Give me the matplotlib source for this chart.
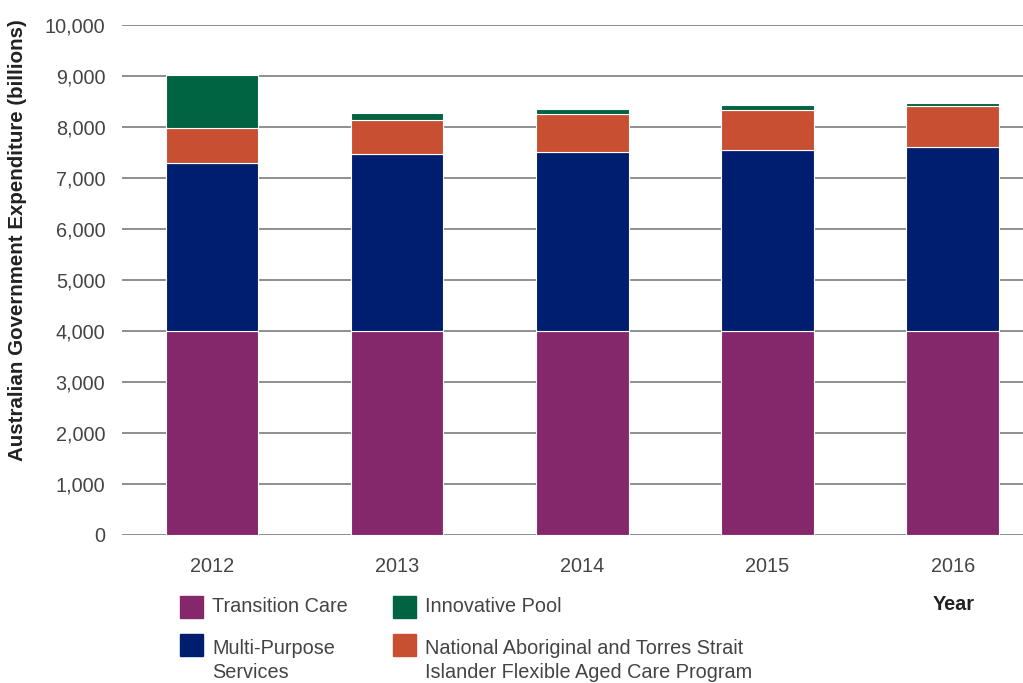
"""Stacked bar chart: Australian Government expenditure by flexible care program, 2012-2016."""

import matplotlib.pyplot as plt
import matplotlib.patches as mpatches
import numpy as np

plt.rcParams["font.family"] = ["Liberation Sans", "DejaVu Sans"]

YEARS = ["2012", "2013", "2014", "2015", "2016"]
TRANSITION_CARE = [4000, 4000, 4000, 4000, 4000]
MULTI_PURPOSE = [3300, 3470, 3515, 3555, 3600]
NATSI_FLEXIBLE = [690, 670, 740, 780, 820]
INNOVATIVE_POOL = [1030, 130, 90, 100, 50]

SERIES = [
    ("Transition Care", TRANSITION_CARE, "#84276B"),
    ("Multi-Purpose\nServices", MULTI_PURPOSE, "#001E70"),
    ("National Aboriginal and Torres Strait\nIslander Flexible Aged Care Program", NATSI_FLEXIBLE, "#C84F31"),
    ("Innovative Pool", INNOVATIVE_POOL, "#006341"),
]

TEXT_COLOR = "#444444"
FONT_SIZE = 14.3


def main() -> None:
    fig = plt.figure(figsize=(10.23, 6.83), dpi=100)
    ax = fig.add_axes([122 / 1023, 1 - 535 / 683, 901 / 1023, 510 / 683])

    x = np.arange(len(YEARS))
    bottom = np.zeros(len(YEARS))
    for label, values, color in SERIES:
        vals = np.asarray(values, dtype=float)
        ax.bar(x, vals, bottom=bottom, width=0.5, color=color,
               edgecolor="white", linewidth=0.8, zorder=3)
        bottom += vals

    ax.set_ylim(0, 10000)
    ax.set_xlim(-0.486, 4.38)
    ax.set_yticks(np.arange(0, 10001, 1000))
    ax.set_yticklabels([f"{v:,}" for v in range(0, 10001, 1000)])
    ax.set_xticks(x)
    ax.set_xticklabels(YEARS)
    ax.tick_params(axis="both", length=0, labelsize=FONT_SIZE, labelcolor=TEXT_COLOR)
    ax.tick_params(axis="y", pad=12)
    ax.tick_params(axis="x", pad=16)
    ax.grid(axis="y", color="#707070", linewidth=1.1, zorder=0)
    for spine in ax.spines.values():
        spine.set_visible(False)

    fig.text(18 / 1023, 1 - 240 / 683, "Australian Government Expenditure (billions)",
             rotation=90, ha="center", va="center", fontsize=14.8,
             fontweight="bold", color="#222222")

    # Manual legend laid out in two columns below the axes.
    legend_spots = [
        (0, 180, 596), (1, 180, 634), (2, 393, 634), (3, 393, 596),
    ]
    for idx, px, py in legend_spots:
        label, _, color = SERIES[idx]
        fig.patches.append(mpatches.Rectangle(
            (px / 1023, 1 - (py + 22) / 683), 23 / 1023, 22 / 683,
            transform=fig.transFigure, color=color))
        if "\n" in label:
            fig.text((px + 32) / 1023, 1 - (py + 5) / 683, label, ha="left",
                     va="top", fontsize=FONT_SIZE, color=TEXT_COLOR,
                     linespacing=1.32)
        else:
            fig.text((px + 32) / 1023, 1 - (py + 10) / 683, label, ha="left",
                     va="center", fontsize=FONT_SIZE, color=TEXT_COLOR)

    fig.text(975 / 1023, 1 - 605 / 683, "Year", ha="right", va="center",
             fontsize=FONT_SIZE, fontweight="bold", color="#222222")

    fig.savefig("out.png", dpi=100)
    plt.close(fig)


if __name__ == "__main__":
    main()
